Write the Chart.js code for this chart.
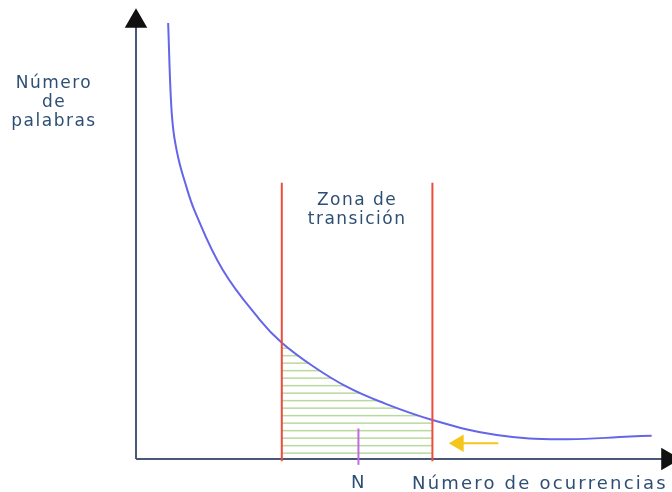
<!DOCTYPE html>
<html>
<head>
<meta charset="utf-8">
<script src="https://cdn.jsdelivr.net/npm/chart.js@4.4.1/dist/chart.umd.min.js"></script>
<style>
  html, body { margin: 0; padding: 0; background: #fff; }
  #wrap { width: 672px; height: 492px; position: relative; }
</style>
</head>
<body>
<div id="wrap"><canvas id="zipfChart"></canvas></div>
<script>
// Curva (unidades relativas 0-100 en ambos ejes)
const curveX = [6.0, 6.5, 7.0, 7.9, 9.1, 11.0, 16.2, 23.1, 27.2, 33.1, 39.3, 45.5, 55.3, 67.3, 79.7, 92.2, 96.2];
const curveY = [97.1, 80.4, 72.9, 67.0, 61.8, 55.1, 42.1, 31.0, 25.9, 20.6, 16.1, 12.8, 8.7, 5.35, 4.4, 5.0, 5.2];

// Zona de transición (límites en x) y altura de las líneas rojas
const zoneBounds = [27.2, 55.3];
const zoneTop = 61.5;

// Marca N y flecha amarilla
const markN = 41.5;
const markNRange = [-1.3, 6.8];
const yellowArrowX = [60.2, 67.6];
const yellowArrowY = 3.5;

// Extremos de los ejes
const yAxisEnd = 97.5;
const xAxisEnd = 99.2;

const yLabelLines = ['Número', 'de', 'palabras'];
const zoneLabelLines = ['Zona de', 'transición'];
const nLabel = 'N';
const xLabel = 'Número de ocurrencias';

const curvePts = curveX.map((x, i) => ({ x, y: curveY[i] }));

// trama de líneas horizontales verdes
const makeHatch = () => {
    const c = document.createElement('canvas');
    c.width = 8; c.height = 15;
    const g = c.getContext('2d');
    g.fillStyle = '#b8da9c';
    g.fillRect(0, 2.4, 8, 1.5);
    g.fillRect(0, 9.9, 8, 1.5);
    return g.createPattern(c, 'repeat');
};
const hatch = makeHatch();
const inZone = (ctx) => ctx.p0.parsed.x >= zoneBounds[0] && ctx.p1.parsed.x <= zoneBounds[1];

const seg = (pts, color, width, extra = {}) => Object.assign({
    data: pts,
    borderColor: color,
    borderWidth: width,
    pointRadius: 0,
    fill: false,
    tension: 0,
    clip: false
}, extra);

const textPlugin = {
    id: 'labels',
    afterDatasetsDraw(chart) {
        const { ctx, scales: { x } } = chart;
        ctx.save();
        ctx.fillStyle = '#2e4f74';
        ctx.font = '17px "DejaVu Sans"';
        ctx.letterSpacing = '1.5px';
        ctx.textAlign = 'center';
        ctx.textBaseline = 'middle';
        yLabelLines.forEach((t, i) => ctx.fillText(t, 54, 84 + i * 19));
        const zx = x.getPixelForValue((zoneBounds[0] + zoneBounds[1]) / 2);
        zoneLabelLines.forEach((t, i) => ctx.fillText(t, zx, 201 + i * 19));
        ctx.font = '18px "DejaVu Sans"';
        ctx.fillText(nLabel, x.getPixelForValue(markN), 483);
        ctx.letterSpacing = '2.2px';
        ctx.textAlign = 'left';
        ctx.fillText(xLabel, 412, 484);
        ctx.restore();
    }
};

new Chart(document.getElementById('zipfChart'), {
    type: 'line',
    data: {
        datasets: [
            seg([{ x: 0, y: 0 }, { x: 0, y: yAxisEnd }], '#4a5878', 2, {
                order: 3, pointRadius: [0, 11], pointStyle: 'triangle', pointRotation: 0,
                pointBackgroundColor: '#111', pointBorderColor: '#111'
            }),
            seg([{ x: 0, y: 0 }, { x: xAxisEnd, y: 0 }], '#4a5878', 2, {
                order: 3, pointRadius: [0, 11], pointStyle: 'triangle', pointRotation: 90,
                pointBackgroundColor: '#111', pointBorderColor: '#111'
            }),
            seg([{ x: zoneBounds[0], y: -0.5 }, { x: zoneBounds[0], y: zoneTop }], '#ee4b3a', 2, { order: 0 }),
            seg([{ x: zoneBounds[1], y: -0.5 }, { x: zoneBounds[1], y: zoneTop }], '#ee4b3a', 2, { order: 0 }),
            seg([{ x: markN, y: markNRange[0] }, { x: markN, y: markNRange[1] }], '#c46ae0', 2, { order: 0 }),
            seg([{ x: yellowArrowX[0], y: yellowArrowY }, { x: yellowArrowX[1], y: yellowArrowY }], '#f6c51c', 2, {
                order: 0, pointRadius: [8, 0], pointStyle: 'triangle', pointRotation: 270,
                pointBackgroundColor: '#f6c51c', pointBorderColor: '#f6c51c'
            }),
            seg(curvePts, '#6565ea', 2, {
                order: 1, tension: 0.4, fill: 'origin', backgroundColor: 'rgba(0,0,0,0)',
                segment: { backgroundColor: (ctx) => inZone(ctx) ? hatch : 'rgba(0,0,0,0)' }
            })
        ]
    },
    options: {
        responsive: true,
        maintainAspectRatio: false,
        animation: false,
        events: [],
        layout: { autoPadding: false, padding: { left: 136, right: 0, top: 10, bottom: 33 } },
        plugins: { legend: { display: false }, tooltip: { enabled: false } },
        scales: {
            x: { type: 'linear', min: 0, max: 100, display: false },
            y: { type: 'linear', min: 0, max: 100, display: false }
        }
    },
    plugins: [textPlugin]
});
</script>
</body>
</html>
